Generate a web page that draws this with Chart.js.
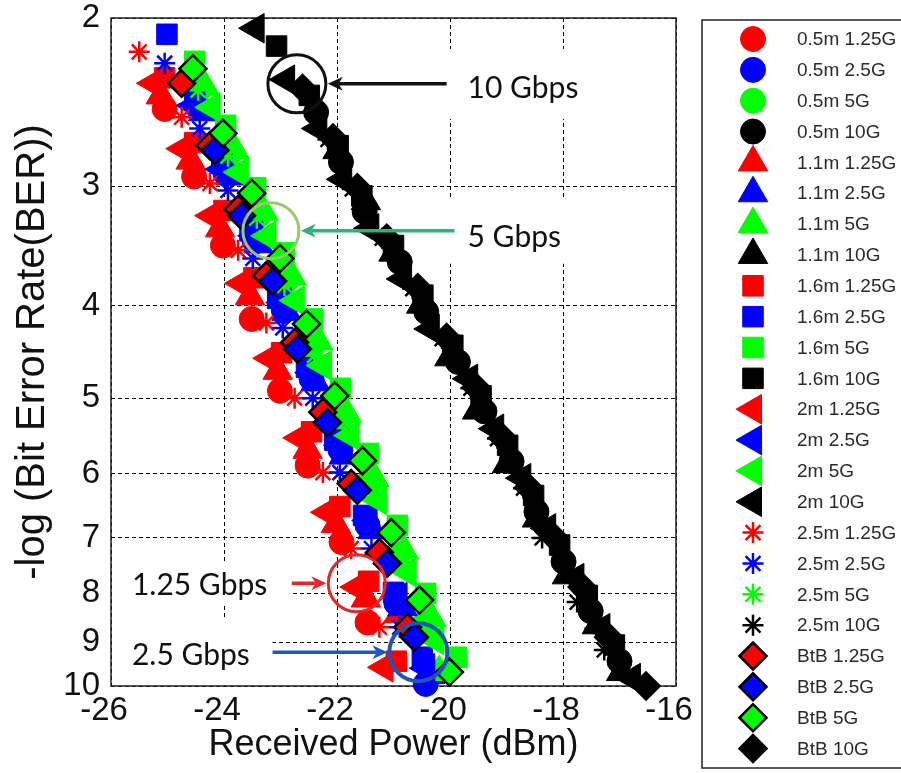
<!DOCTYPE html>
<html>
<head>
<meta charset="utf-8">
<title>BER vs received power</title>
<script src="https://cdn.jsdelivr.net/npm/chart.js@4.4.1/dist/chart.umd.min.js"></script>
<style>
  html, body { margin: 0; padding: 0; background: #fff; }
</style>
</head>
<body>
<canvas id="berChart" width="901" height="773"></canvas>
<script>
// legend groups
const distances = ['0.5m', '1.1m', '1.6m', '2m', '2.5m', 'BtB'];
const rates = ['1.25G', '2.5G', '5G', '10G'];

// axis ticks
const powerTicks = [-26, -24, -22, -20, -18, -16];
const berTicks = [2, 3, 4, 5, 6, 7, 8, 9, 10];

// measured points: [received power (dBm), -log(BER)]
// 1.25 Gbps
const r125_05m = [[-25.05,2.49],[-24.53,2.93],[-24.02,3.46],[-23.51,4.13],[-23.01,4.91],[-22.52,5.88],[-21.92,7.07],[-21.46,8.58]];
const r125_11m = [[-25.12,2.41],[-24.59,2.82],[-24.07,3.32],[-23.54,3.91],[-23.05,4.68],[-22.52,5.66],[-22.02,6.77],[-21.49,8.1],[-20.91,8.41]];
const r125_16m = [[-25.05,2.31],[-24.52,2.7],[-24.0,3.18],[-23.47,3.74],[-22.98,4.48],[-22.45,5.42],[-21.95,6.49],[-21.44,7.77],[-20.95,9.42]];
const r125_2m = [[-25.25,2.34],[-24.73,2.74],[-24.22,3.22],[-23.69,3.79],[-23.19,4.54],[-22.66,5.5],[-22.17,6.58],[-21.65,7.88],[-21.16,9.56]];
const r125_25m = [[-25.5,2.17],[-24.75,2.54],[-24.25,2.98],[-23.75,3.5],[-23.25,4.17],[-22.75,5.0],[-22.25,5.98],[-21.75,7.18],[-21.25,8.68]];
const r125_btb = [[-24.75,2.34],[-24.25,2.72],[-23.75,3.17],[-23.25,3.72],[-22.75,4.37],[-22.25,5.17],[-21.75,6.14],[-21.25,7.25],[-20.75,8.68]];

// 2.5 Gbps
const r25_05m = [[-24.46,2.48],[-23.97,2.91],[-23.46,3.42],[-22.94,4.05],[-22.45,4.77],[-21.94,5.66],[-21.46,6.79],[-20.95,8.19],[-20.43,9.95]];
const r25_11m = [[-24.37,2.51],[-23.88,2.93],[-23.39,3.45],[-22.89,4.06],[-22.38,4.81],[-21.88,5.74],[-21.37,6.87],[-20.84,8.27],[-20.35,9.74]];
const r25_16m = [[-25.01,2.08],[-24.52,2.44],[-24.04,2.84],[-23.54,3.34],[-23.05,3.93],[-22.54,4.64],[-22.04,5.53],[-21.53,6.63],[-21.0,7.98],[-20.49,9.33]];
const r25_2m = [[-24.55,2.47],[-24.04,2.88],[-23.46,3.38],[-22.96,3.97],[-22.45,4.7],[-21.94,5.6],[-21.44,6.71],[-20.91,8.07],[-20.42,9.58]];
const r25_25m = [[-25.05,2.23],[-24.43,2.61],[-23.93,3.03],[-23.49,3.57],[-22.96,4.22],[-22.43,5.0],[-21.95,5.98],[-21.39,7.18],[-20.89,8.68]];
const r25_btb = [[-24.16,2.75],[-23.69,3.22],[-23.14,3.77],[-22.7,4.44],[-22.17,5.3],[-21.64,6.24],[-21.11,7.44],[-20.63,8.89]];

// 5 Gbps
const r5_05m = [[-24.45,2.38],[-23.92,2.78],[-23.4,3.22],[-22.91,3.77],[-22.43,4.4],[-21.94,5.24],[-21.44,6.12],[-20.93,7.28],[-20.43,8.58]];
const r5_11m = [[-24.34,2.36],[-23.81,2.75],[-23.3,3.19],[-22.8,3.73],[-22.33,4.36],[-21.83,5.19],[-21.34,6.06],[-20.82,7.21],[-20.33,8.49],[-20.19,9.67]];
const r5_16m = [[-24.52,2.22],[-23.97,2.59],[-23.44,3.01],[-22.93,3.52],[-22.43,4.13],[-21.94,4.88],[-21.44,5.71],[-20.93,6.79],[-20.43,8.0],[-19.89,9.33]];
const r5_2m = [[-24.22,2.48],[-23.72,2.9],[-23.23,3.38],[-22.73,3.95],[-22.25,4.62],[-21.76,5.47],[-21.27,6.39],[-20.75,7.6],[-20.26,8.95]];
const r5_25m = [[-24.46,2.38],[-23.93,2.79],[-23.42,3.24],[-22.93,3.81],[-22.4,4.51],[-21.9,5.27],[-21.41,6.2],[-20.89,7.35],[-20.4,8.68]];
const r5_btb = [[-24.55,2.26],[-24.02,2.64],[-23.51,3.05],[-23.01,3.57],[-22.54,4.18],[-22.04,4.97],[-21.55,5.81],[-21.04,6.91],[-20.54,8.13],[-20.01,9.67]];

// 10 Gbps
const r10_05m = [[-22.37,2.51],[-21.93,2.83],[-21.51,3.19],[-20.89,3.6],[-20.42,4.06],[-19.86,4.58],[-19.39,5.16],[-18.91,5.82],[-18.47,6.57],[-17.99,7.41],[-17.51,8.35],[-17.0,9.42]];
const r10_11m = [[-21.99,2.75],[-21.49,3.11],[-21.0,3.52],[-20.51,3.99],[-20.01,4.53],[-19.52,5.15],[-18.99,5.86],[-18.46,6.68],[-17.93,7.66],[-17.4,8.64],[-16.97,9.67]];
const r10_16m = [[-23.07,2.14],[-22.49,2.41],[-21.98,2.72],[-21.56,3.07],[-21.0,3.46],[-20.48,3.9],[-19.95,4.4],[-19.45,4.97],[-18.98,5.6],[-18.52,6.32],[-18.06,7.12],[-17.57,8.04],[-17.09,9.06]];
const r10_2m = [[-23.44,2.05],[-22.9,2.32],[-22.33,2.61],[-21.89,2.95],[-21.41,3.32],[-20.83,3.75],[-20.34,4.23],[-19.66,4.77],[-19.2,5.38],[-18.72,6.06],[-18.28,6.84],[-17.78,7.71],[-17.32,8.7],[-16.78,9.81]];
const r10_25m = [[-22.16,2.68],[-21.73,3.02],[-21.2,3.4],[-20.66,3.84],[-20.14,4.33],[-19.63,4.88],[-19.16,5.51],[-18.7,6.21],[-18.37,7.0],[-17.75,8.17],[-17.27,9.17]];
const r10_btb = [[-22.61,2.37],[-22.07,2.67],[-21.64,3.01],[-21.12,3.4],[-20.57,3.83],[-20.06,4.32],[-19.54,4.87],[-19.07,5.5],[-18.61,6.2],[-18.16,6.99],[-17.66,7.88],[-17.19,8.89],[-16.53,10.0]];

const seriesByDistance = [
  [r125_05m, r25_05m, r5_05m, r10_05m],
  [r125_11m, r25_11m, r5_11m, r10_11m],
  [r125_16m, r25_16m, r5_16m, r10_16m],
  [r125_2m, r25_2m, r5_2m, r10_2m],
  [r125_25m, r25_25m, r5_25m, r10_25m],
  [r125_btb, r25_btb, r5_btb, r10_btb],
];

// one marker per fibre length, one colour per bit rate
const rateColors = ['#ff0000', '#0000ff', '#00ff00', '#000000'];
const markers = [
  { pointStyle: 'circle', radius: 12.5, rotation: 0 },
  { pointStyle: 'triangle', radius: 17, rotation: 0 },
  { pointStyle: 'rect', radius: 14.5, rotation: 0 },
  { pointStyle: 'triangle', radius: 17, rotation: 270 },
  { pointStyle: 'star', radius: 10.5, rotation: 0 },
  { pointStyle: 'rectRot', radius: 13.5, rotation: 0 },
];

const datasets = [];
distances.forEach((dist, di) => {
  rates.forEach((rate, ri) => {
    const m = markers[di];
    const color = rateColors[ri];
    const isStar = m.pointStyle === 'star';
    const isDiamond = m.pointStyle === 'rectRot';
    datasets.push({
      label: dist + ' ' + rate,
      data: seriesByDistance[di][ri].map(p => ({ x: p[0], y: p[1] })),
      pointStyle: m.pointStyle,
      pointRadius: m.radius,
      pointRotation: m.rotation,
      backgroundColor: color,
      borderColor: isDiamond ? '#000' : color,
      borderWidth: isStar ? 2.5 : (isDiamond ? 2.5 : 1),
      showLine: false,
      clip: false,
      // later series are painted over earlier ones
      order: -datasets.length,
    });
  });
});

// callouts pointing at each bit-rate family
const callouts = [
  { text: '10 Gbps', ring: '#111', arrow: '#111', cx: -22.71, cy: 2.344, r: 29, lw: 3, tail: -20.06, textX: -19.69, dy: 4, bh: 35 },
  { text: '5 Gbps', ring: '#9cc86c', arrow: '#2cb47a', cx: -23.17, cy: 3.339, r: 28, lw: 3, tail: -19.92, textX: -19.69, dy: 7, bh: 33 },
  { text: '1.25 Gbps', ring: '#e8262a', arrow: '#e8262a', cx: -21.65, cy: 7.807, r: 28.5, lw: 3, tail: -22.80, textX: -25.63, dy: 2, bh: 21 },
  { text: '2.5 Gbps', ring: '#2453b3', arrow: '#1f55c4', cx: -20.56, cy: 9.217, r: 29, lw: 4, tail: -23.14, textX: -25.63, dy: 3, bh: 34 },
];
const CALLOUT_FONT = '30px Lato';

function calloutBox(chart, c) {
  const { ctx, chartArea, scales: { x, y } } = chart;
  const cy = y.getPixelForValue(c.cy);
  const tx = x.getPixelForValue(c.textX);
  const tw = ctx.measureText(c.text).width;
  if (c.textX > c.cx) {
    return { left: tx - 28, right: Math.min(tx + tw + 25, chartArea.right - 1), top: cy - c.bh, bottom: cy + c.bh };
  }
  return {
    left: chartArea.left + 1,
    right: x.getPixelForValue(c.tail),
    top: cy - c.bh,
    bottom: Math.min(cy + c.bh, chartArea.bottom - 1),
  };
}

function drawArrow(ctx, x0, x1, y, color) {
  const dir = Math.sign(x1 - x0);
  const head = 15, half = 7;
  ctx.strokeStyle = color;
  ctx.fillStyle = color;
  ctx.lineWidth = 3.5;
  ctx.beginPath();
  ctx.moveTo(x0, y);
  ctx.lineTo(x1 - dir * head * 0.7, y);
  ctx.stroke();
  ctx.beginPath();
  ctx.moveTo(x1, y);
  ctx.lineTo(x1 - dir * head, y - half);
  ctx.lineTo(x1 - dir * head * 0.7, y);
  ctx.lineTo(x1 - dir * head, y + half);
  ctx.closePath();
  ctx.fill();
}

const calloutPlugin = {
  id: 'callouts',
  beforeDatasetsDraw(chart) {
    const { ctx, chartArea } = chart;
    ctx.save();
    ctx.font = CALLOUT_FONT;
    ctx.fillStyle = '#fff';
    callouts.forEach(c => {
      const b = calloutBox(chart, c);
      ctx.fillRect(b.left, b.top, b.right - b.left, b.bottom - b.top);
    });
    // axes box
    ctx.strokeStyle = '#222';
    ctx.lineWidth = 1.5;
    ctx.strokeRect(chartArea.left, chartArea.top, chartArea.right - chartArea.left, chartArea.bottom - chartArea.top);
    ctx.restore();
  },
  afterDatasetsDraw(chart) {
    const { ctx, scales: { x, y } } = chart;
    ctx.save();
    callouts.forEach(c => {
      const cx = x.getPixelForValue(c.cx);
      const cy = y.getPixelForValue(c.cy);
      ctx.strokeStyle = c.ring;
      ctx.lineWidth = c.lw;
      ctx.beginPath();
      ctx.arc(cx, cy, c.r, 0, Math.PI * 2);
      ctx.stroke();
      const tail = x.getPixelForValue(c.tail);
      const tip = tail > cx ? cx + c.r + 2 : cx - c.r - 2;
      drawArrow(ctx, tail, tip, cy, c.arrow);
      ctx.font = CALLOUT_FONT;
      ctx.fillStyle = '#111';
      ctx.textAlign = 'left';
      ctx.textBaseline = 'middle';
      ctx.fillText(c.text, x.getPixelForValue(c.textX), cy + c.dy);
    });
    ctx.restore();
  },
};

// boxed legend on the right, one row per dataset
const legendPlugin = {
  id: 'sideLegend',
  afterDraw(chart) {
    const ctx = chart.ctx;
    ctx.save();
    ctx.strokeStyle = '#222';
    ctx.lineWidth = 1.5;
    ctx.strokeRect(702, 20, 220, 748);
    chart.data.datasets.forEach((ds, i) => {
      const rowY = 39 + i * 30.85;
      ctx.fillStyle = ds.backgroundColor;
      ctx.strokeStyle = ds.borderColor;
      ctx.lineWidth = ds.borderWidth;
      Chart.helpers.drawPoint(ctx, {
        pointStyle: ds.pointStyle,
        rotation: ds.pointRotation,
        radius: ds.pointRadius,
        borderWidth: ds.borderWidth,
      }, 753, rowY);
      ctx.fillStyle = '#2a2a2a';
      ctx.font = '19px "Liberation Sans"';
      ctx.textAlign = 'left';
      ctx.textBaseline = 'middle';
      ctx.fillText(ds.label, 797, rowY + 1);
    });
    ctx.restore();
  },
};

const tickFont = { family: '"Liberation Sans"', size: 33, lineHeight: 1 };

// keep the plot box fixed: labels may overhang the edges
function fixedBox(size) {
  return s => {
    if (s.isHorizontal()) s.height = size; else s.width = size;
    s.paddingTop = 0;
    s.paddingBottom = 0;
    s.paddingLeft = 0;
    s.paddingRight = 0;
  };
}

new Chart(document.getElementById('berChart'), {
  type: 'scatter',
  data: { datasets },
  options: {
    responsive: false,
    animation: false,
    events: [],
    layout: { padding: { left: 0, right: 225, top: 17, bottom: 0 } },
    plugins: { legend: { display: false }, tooltip: { enabled: false } },
    scales: {
      x: {
        type: 'linear',
        min: -26,
        max: -16,
        afterBuildTicks: s => { s.ticks = powerTicks.map(v => ({ value: v })); },
        afterFit: fixedBox(87),
        ticks: { callback: v => String(v), font: tickFont, color: '#111', padding: 8, labelOffset: -7, maxRotation: 0, autoSkip: false },
        grid: { color: '#000', lineWidth: 1, drawTicks: false },
        border: { display: false, dash: [4, 3] },
        title: { display: true, text: 'Received Power (dBm)', font: { family: '"Liberation Sans"', size: 36 }, color: '#111', padding: { top: 0, bottom: 6 } },
      },
      y: {
        type: 'logarithmic',
        reverse: true,
        min: 2,
        max: 10,
        afterBuildTicks: s => { s.ticks = berTicks.map(v => ({ value: v })); },
        afterFit: fixedBox(111),
        ticks: { callback: v => String(v), font: tickFont, color: '#111', padding: 11, autoSkip: false },
        grid: { color: '#000', lineWidth: 1, drawTicks: false },
        border: { display: false, dash: [4, 3] },
        title: { display: true, text: '-log (Bit Error Rate(BER))', font: { family: '"Liberation Sans"', size: 40 }, color: '#111', padding: { top: 9, bottom: 0 } },
      },
    },
  },
  plugins: [calloutPlugin, legendPlugin],
});
</script>
